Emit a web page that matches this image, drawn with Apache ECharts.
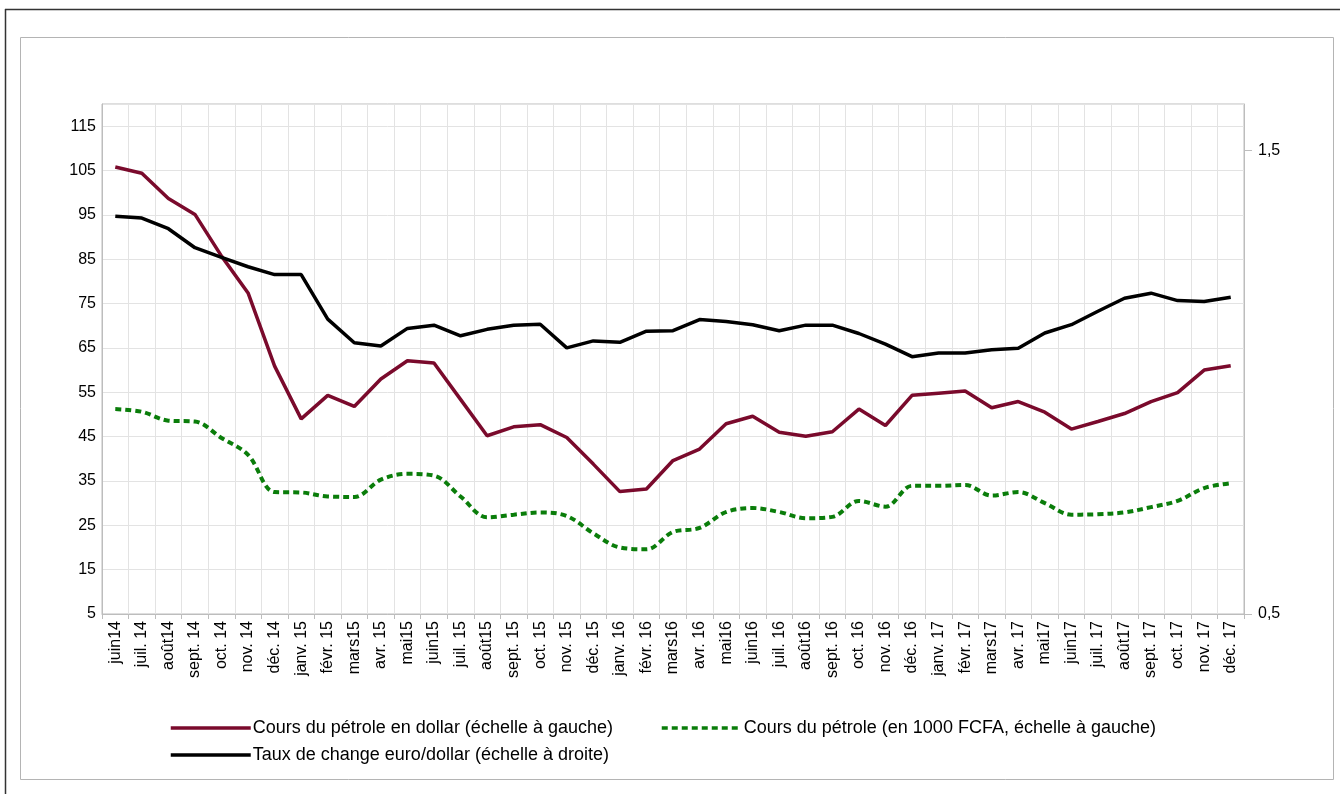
<!DOCTYPE html>
<html>
<head>
<meta charset="utf-8">
<script src="https://cdn.jsdelivr.net/npm/echarts@6/dist/echarts.min.js"></script>
<style>
  html,body{margin:0;padding:0;background:#fff}
  #chart{width:1340px;height:794px}
</style>
</head>
<body>
<div id="chart"></div>
<script>
// mois (juin 2014 -> déc. 2017)
const months = ['juin14','juil. 14','août14','sept. 14','oct. 14','nov. 14','déc. 14',
  'janv. 15','févr. 15','mars15','avr. 15','mai15','juin15','juil. 15','août15','sept. 15','oct. 15','nov. 15','déc. 15',
  'janv. 16','févr. 16','mars16','avr. 16','mai16','juin16','juil. 16','août16','sept. 16','oct. 16','nov. 16','déc. 16',
  'janv. 17','févr. 17','mars17','avr. 17','mai17','juin17','juil. 17','août17','sept. 17','oct. 17','nov. 17','déc. 17']

// cours du pétrole en dollar (échelle à gauche)
const oilUsd = [105.8,104.4,98.7,95.1,85.7,77.4,60.9,
  49.0,54.3,51.8,58.0,62.1,61.6,53.4,45.2,47.2,47.7,44.8,38.8,
  32.6,33.2,39.6,42.2,47.9,49.6,46.0,45.1,46.1,51.2,47.5,54.3,
  54.8,55.3,51.5,52.9,50.5,46.7,48.4,50.2,52.9,54.9,60.0,61.0]

// cours du pétrole en 1000 FCFA (échelle à gauche)
const oilFcfa = [51.2,50.6,48.6,48.4,44.7,40.9,32.5,
  32.4,31.5,31.4,35.3,36.6,36.2,31.5,26.8,27.4,27.9,27.1,23.2,
  20.0,19.6,23.5,24.4,28.0,28.9,28.0,26.6,26.9,30.5,29.2,33.9,
  33.9,34.1,31.7,32.5,30.0,27.4,27.5,27.9,29.1,30.5,33.4,34.5]

// taux de change euro/dollar (échelle à droite)
const eurUsd = [1.358,1.354,1.331,1.290,1.269,1.249,1.232,
  1.232,1.136,1.085,1.078,1.116,1.123,1.100,1.114,1.123,1.125,1.074,1.089,
  1.086,1.110,1.111,1.135,1.131,1.124,1.111,1.123,1.123,1.105,1.082,1.055,
  1.063,1.063,1.070,1.073,1.106,1.124,1.153,1.181,1.192,1.176,1.174,1.183]

const seriesNames = ['Cours du pétrole en dollar (échelle à gauche)',
  'Cours du pétrole (en 1000 FCFA, échelle à gauche)',
  'Taux de change euro/dollar (échelle à droite)']

const leftTicks = {min:5, max:120, interval:10}
const rightTickValues = [0.5, 1.5]

const font = '"Liberation Sans", Arial, sans-serif'
const gridColor = '#e3e3e3'
const borderColor = '#bdbdbd'

const chart = echarts.init(document.getElementById('chart'))

// une légende par série, pour placer chaque entrée comme dans l'original
function legendAt(name, left, top, dash){
  return {
    data:[name],left:left,top:top,itemWidth:80,itemHeight:14,
    itemStyle:{opacity:0},
    lineStyle:{width:3.5,type:dash || 'solid'},
    textStyle:{fontSize:18,color:'#000',fontFamily:font,padding:[0,0,0,-3]}
  }
}

chart.setOption({
  animation:false,
  backgroundColor:'#fff',
  textStyle:{fontFamily:font},
  graphic:[
    // cadre extérieur (haut et gauche)
    {type:'line',shape:{x1:5,y1:9.5,x2:1340,y2:9.5},style:{stroke:'#333',lineWidth:1.5},silent:true},
    {type:'line',shape:{x1:5.5,y1:9,x2:5.5,y2:794},style:{stroke:'#333',lineWidth:1.5},silent:true},
    // cadre intérieur
    {type:'rect',shape:{x:20.5,y:37.5,width:1313,height:742},style:{fill:null,stroke:'#b4b4b4',lineWidth:1},silent:true}
  ],
  grid:{
    left:102,right:96,top:104,bottom:180,
    show:true,borderColor:borderColor,borderWidth:1,backgroundColor:'transparent'
  },
  legend:[
    legendAt(seriesNames[0],164,714),
    legendAt(seriesNames[1],655,714,[6,4]),
    legendAt(seriesNames[2],164,741)
  ],
  xAxis:{
    type:'category',
    data:months,
    boundaryGap:true,
    axisLine:{lineStyle:{color:borderColor}},
    axisTick:{show:true,interval:0,length:5,lineStyle:{color:borderColor}},
    splitLine:{show:true,interval:0,lineStyle:{color:gridColor}},
    axisLabel:{interval:0,rotate:90,margin:7,fontSize:16,color:'#000',fontFamily:font}
  },
  yAxis:[
    {
      type:'value',
      min:leftTicks.min,max:leftTicks.max,interval:leftTicks.interval,
      axisLine:{show:true,lineStyle:{color:borderColor}},
      axisTick:{show:false},
      splitLine:{show:true,lineStyle:{color:gridColor}},
      axisLabel:{fontSize:16,color:'#000',margin:6,showMaxLabel:false,fontFamily:font}
    },
    {
      type:'value',
      position:'right',
      min:0.5,max:1.6,interval:0.5,
      axisLine:{show:true,lineStyle:{color:borderColor}},
      axisTick:{show:true,length:8,customValues:rightTickValues,lineStyle:{color:borderColor}},
      splitLine:{show:false},
      axisLabel:{
        fontSize:16,color:'#000',margin:14,fontFamily:font,
        customValues:rightTickValues,
        formatter:v => String(v).replace('.', ',')
      }
    }
  ],
  series:[
    {
      name:seriesNames[0],
      type:'line',yAxisIndex:0,data:oilUsd,
      symbol:'none',
      lineStyle:{color:'#7a0a2c',width:3.5},
      itemStyle:{color:'#7a0a2c'}
    },
    {
      name:seriesNames[1],
      type:'line',yAxisIndex:0,data:oilFcfa,
      symbol:'none',smooth:0.35,
      lineStyle:{color:'#0a7d0a',width:4,type:[6,4]},
      itemStyle:{color:'#0a7d0a'}
    },
    {
      name:seriesNames[2],
      type:'line',yAxisIndex:1,data:eurUsd,
      symbol:'none',
      lineStyle:{color:'#000',width:3.5},
      itemStyle:{color:'#000'}
    }
  ]
})
</script>
</body>
</html>
